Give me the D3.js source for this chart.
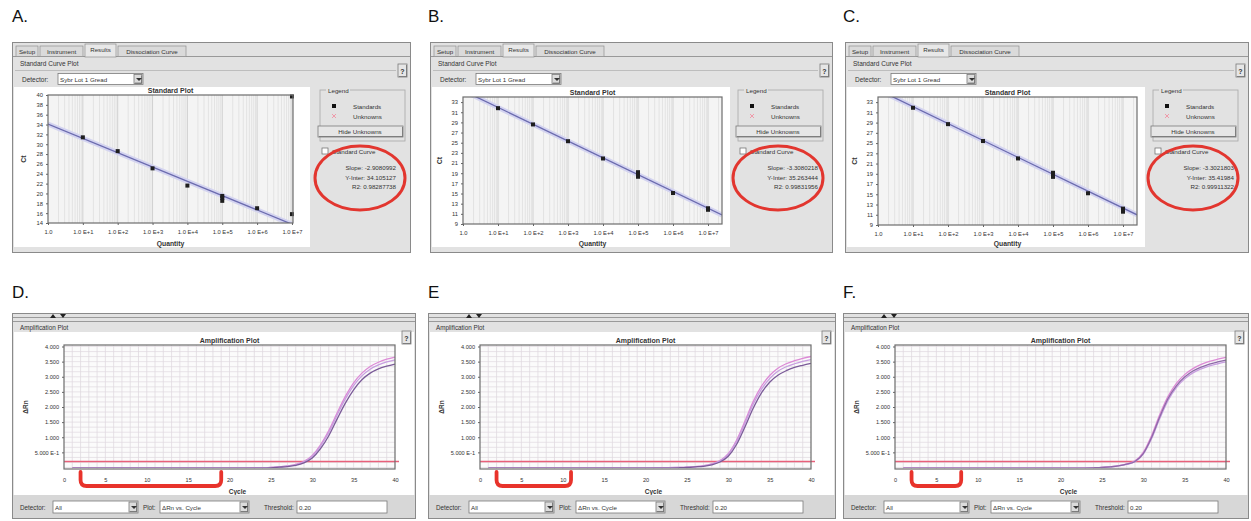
<!DOCTYPE html>
<html><head><meta charset="utf-8">
<script src="https://cdn.jsdelivr.net/npm/d3@7"></script>
<style>body{margin:0;background:#fff;} svg{display:block;font-family:"Liberation Sans",Arial,sans-serif;}</style>
</head><body><svg id="c" width="1251" height="521"></svg>
<script>
// ---------------- data ----------------
const panelLabels = ["A.", "B.", "C.", "D.", "E", "F."];
const tabLabels = ["Setup", "Instrument", "Results", "Dissociation Curve"];
const detectorName = "Sybr Lot 1 Gread";

const stdXTickExps = [0, 1, 2, 3, 4, 5, 6, 7];
const stdXTickLabels = ["1.0", "1.0 E+1", "1.0 E+2", "1.0 E+3", "1.0 E+4", "1.0 E+5", "1.0 E+6", "1.0 E+7"];
const stdA_yTicks = [40, 38, 36, 34, 32, 30, 28, 26, 24, 22, 20, 18, 16, 14];
const stdBC_yTicks = [33, 31, 29, 27, 25, 23, 21, 19, 17, 15, 13, 11, 9];

const stdA_logQ = [1, 2, 3, 4, 5, 5, 5, 6, 7, 7];
const stdA_ct   = [31.4, 28.6, 25.1, 21.6, 19.5, 19.1, 18.5, 17.0, 15.8, 39.7];
const stdB_logQ = [1, 2, 3, 4, 5, 5, 5, 6, 7, 7];
const stdB_ct   = [31.8, 28.6, 25.3, 21.9, 19.2, 18.8, 18.3, 15.1, 12.1, 11.8];
const stdC_logQ = [1, 2, 3, 4, 5, 5, 5, 6, 7, 7, 7];
const stdC_ct   = [31.9, 28.7, 25.4, 22.0, 19.2, 18.8, 18.4, 15.2, 12.2, 11.9, 11.6];

const fitSlopes     = [-2.9080992, -3.3080218, -3.3021803];
const fitIntercepts = [34.105127, 35.263444, 35.41984];
const fitR2         = [0.98287738, 0.99831956, 0.99911322];

const ampCycles = [1, 20, 22, 24, 25, 26, 27, 28, 29, 30, 31, 32, 33, 34, 35, 36, 37, 38, 39, 40];
const ampD1 = [-0.02, -0.02, -0.02, -0.01, 0.00, 0.02, 0.05, 0.10, 0.20, 0.40, 0.75, 1.22, 1.80, 2.35, 2.80, 3.12, 3.34, 3.48, 3.58, 3.65];
const ampD2 = [-0.02, -0.02, -0.02, -0.01, 0.00, 0.02, 0.05, 0.09, 0.18, 0.37, 0.71, 1.16, 1.73, 2.27, 2.71, 3.03, 3.25, 3.39, 3.49, 3.56];
const ampD3 = [-0.02, -0.02, -0.02, -0.02, -0.01, 0.01, 0.03, 0.07, 0.15, 0.31, 0.62, 1.05, 1.60, 2.13, 2.57, 2.90, 3.12, 3.26, 3.35, 3.42];
const ampE1 = [-0.02, -0.02, -0.01, 0.00, 0.01, 0.03, 0.06, 0.12, 0.23, 0.46, 0.90, 1.52, 2.17, 2.68, 3.04, 3.28, 3.43, 3.53, 3.61, 3.67];
const ampE2 = [-0.02, -0.02, -0.01, 0.00, 0.01, 0.02, 0.05, 0.11, 0.21, 0.43, 0.85, 1.45, 2.08, 2.58, 2.94, 3.18, 3.33, 3.43, 3.51, 3.57];
const ampE3 = [-0.02, -0.02, -0.02, -0.01, 0.00, 0.02, 0.04, 0.09, 0.18, 0.37, 0.76, 1.33, 1.95, 2.46, 2.82, 3.05, 3.20, 3.31, 3.38, 3.44];
const ampF1 = [-0.02, -0.02, -0.02, -0.01, 0.00, 0.03, 0.06, 0.12, 0.22, 0.50, 1.05, 1.75, 2.35, 2.78, 3.07, 3.27, 3.41, 3.51, 3.58, 3.64];
const ampF2 = [-0.02, -0.02, -0.02, -0.01, 0.00, 0.02, 0.05, 0.10, 0.19, 0.44, 0.95, 1.62, 2.22, 2.64, 2.93, 3.13, 3.26, 3.36, 3.43, 3.49];
const ampF3 = [-0.02, -0.02, -0.02, -0.01, 0.00, 0.02, 0.05, 0.11, 0.20, 0.46, 0.99, 1.68, 2.28, 2.70, 2.99, 3.19, 3.32, 3.42, 3.49, 3.55];

const ampXTicks = [0, 5, 10, 15, 20, 25, 30, 35, 40];
const ampYTicks = [0.5, 1.0, 1.5, 2.0, 2.5, 3.0, 3.5, 4.0];
const ampYTickLabels = ["5.000 E-1", "1.000", "1.500", "2.000", "2.500", "3.000", "3.500", "4.000"];
const thresholds = [0.20, 0.20, 0.20];
const baselineStart = [2, 2, 2];
const baselineEnd = [19, 11, 8];

// ---------------- drawing ----------------
const svg = d3.select("#c");
svg.append("rect").attr("width", 1251).attr("height", 521).attr("fill", "#fff");

const labelPos = [[12, 22], [428, 22], [843, 22], [12, 298], [428, 298], [843, 298]];
panelLabels.forEach((t, i) => {
  svg.append("text").attr("x", labelPos[i][0]).attr("y", labelPos[i][1])
    .attr("font-size", 17).attr("fill", "#111").text(t);
});

function txt(g, x, y, s, opt = {}) {
  return g.append("text").attr("x", x).attr("y", y).text(s)
    .attr("font-size", opt.size || 6.5)
    .attr("font-weight", opt.bold ? "bold" : null)
    .attr("text-anchor", opt.anchor || "start")
    .attr("fill", opt.fill || "#333");
}
function button(g, x, y, w, h, fill) {
  g.append("rect").attr("x", x).attr("y", y).attr("width", w).attr("height", h)
    .attr("fill", fill || "#e4e4e4").attr("stroke", "#7a7a7a").attr("stroke-width", 0.8);
  g.append("path").attr("d", `M${x + 1},${y + h - 0.5}H${x + w - 0.5}V${y + 1}`)
    .attr("fill", "none").attr("stroke", "#555").attr("stroke-width", 0.6);
}
function combo(g, x, y, w, h, value) {
  g.append("rect").attr("x", x).attr("y", y).attr("width", w).attr("height", h)
    .attr("fill", "#fff").attr("stroke", "#7a7a7a").attr("stroke-width", 0.8);
  txt(g, x + 2, y + h - 3, value, { size: 6.2 });
  button(g, x + w - 9, y + 1, 8, h - 2, "#dcdcdc");
  g.append("path").attr("d", `M${x + w - 7},${y + h / 2 - 1}l3,3l3,-3z`).attr("fill", "#333");
}

function drawStd(cfg) {
  const g = svg.append("g").attr("transform", `translate(${cfg.fx},${cfg.fy})`);
  const fw = cfg.fw, fh = cfg.fh;
  g.append("rect").attr("x", 0.5).attr("y", 0.5).attr("width", fw).attr("height", fh)
    .attr("fill", "#e2e2e2").attr("stroke", "#8a8a8a");
  const tabs = [[4, 26], [28, 71], [73, 104], [106, 174]];
  g.append("line").attr("x1", 1).attr("x2", fw).attr("y1", 14.5).attr("y2", 14.5).attr("stroke", "#999");
  tabs.forEach((t, i) => {
    const sel = i === 2;
    g.append("rect").attr("x", t[0]).attr("y", sel ? 2 : 4).attr("width", t[1] - t[0])
      .attr("height", sel ? 13 : 10.5).attr("fill", sel ? "#e8e8e8" : "#dadada")
      .attr("stroke", "#8f8f8f").attr("stroke-width", 0.7);
    txt(g, (t[0] + t[1]) / 2, sel ? 10 : 11.5, tabLabels[i], { anchor: "middle", size: 6.2 });
  });
  txt(g, 8, 23.5, "Standard Curve Plot", { size: 6.5 });
  g.append("line").attr("x1", 3).attr("x2", fw - 14).attr("y1", 28.5).attr("y2", 28.5).attr("stroke", "#bdbdbd");
  button(g, fw - 12, 22, 9, 13, "#e6e6e6");
  txt(g, fw - 7.5, 31.5, "?", { anchor: "middle", size: 7, bold: true });
  txt(g, 10, 40, "Detector:", { size: 6.5 });
  combo(g, 46, 31.5, 85, 11, detectorName);

  g.append("rect").attr("x", 2).attr("y", 45).attr("width", cfg.wpR - 2).attr("height", 160).attr("fill", "#fff");

  const b = cfg.box;
  const xs = d3.scaleLog().domain([1, Math.pow(10, cfg.xMaxExp)]).range([b.x0, b.x1]);
  const ys = d3.scaleLinear().domain(cfg.yDomain).range([b.y1, b.y0]);
  g.append("rect").attr("x", b.x0).attr("y", b.y0).attr("width", b.x1 - b.x0).attr("height", b.y1 - b.y0)
    .attr("fill", "#f4f4f4");
  const minor = [];
  for (let k = 0; k <= 7; k++) for (let m = 1; m <= 9; m++) {
    const v = m * Math.pow(10, k);
    if (v > 1 && v < Math.pow(10, cfg.xMaxExp)) minor.push(v);
  }
  g.selectAll(null).data(minor).join("line")
    .attr("x1", d => xs(d)).attr("x2", d => xs(d)).attr("y1", b.y0).attr("y2", b.y1)
    .attr("stroke", d => (Math.abs(Math.log10(d) % 1) < 1e-9) ? "#d0d0d0" : "#e3e3e3").attr("stroke-width", 1);
  const cid = "clip" + cfg.id;
  g.append("clipPath").attr("id", cid).append("rect").attr("x", b.x0).attr("y", b.y0)
    .attr("width", b.x1 - b.x0).attr("height", b.y1 - b.y0);
  const lineData = [0, cfg.xMaxExp].map(e => [Math.pow(10, e), cfg.intercept + cfg.slope * e]);
  const lg = d3.line().x(d => xs(d[0])).y(d => ys(d[1]));
  g.append("path").attr("d", lg(lineData)).attr("clip-path", `url(#${cid})`)
    .attr("stroke", "#d4d4f0").attr("stroke-width", 5).attr("fill", "none");
  g.append("path").attr("d", lg(lineData)).attr("clip-path", `url(#${cid})`)
    .attr("stroke", "#6b6bae").attr("stroke-width", 1.3).attr("fill", "none");
  g.selectAll(null).data(cfg.logQ.map((q, i) => [Math.pow(10, q), cfg.ct[i]])).join("rect")
    .attr("x", d => xs(d[0]) - 2).attr("y", d => ys(d[1]) - 2).attr("width", 4).attr("height", 4)
    .attr("fill", "#1e1e1e");
  g.append("rect").attr("x", b.x0).attr("y", b.y0).attr("width", b.x1 - b.x0).attr("height", b.y1 - b.y0)
    .attr("fill", "none").attr("stroke", "#6d6d6d").attr("stroke-width", 1.2);
  const xAxis = d3.axisBottom(xs).tickValues(stdXTickExps.map(e => Math.pow(10, e)))
    .tickFormat((d, i) => stdXTickLabels[i]).tickSize(2);
  const xa = g.append("g").attr("transform", `translate(0,${b.y1})`).call(xAxis);
  const yAxis = d3.axisLeft(ys).tickValues(cfg.yTicks).tickFormat(d => d).tickSize(2);
  const ya = g.append("g").attr("transform", `translate(${b.x0},0)`).call(yAxis);
  [xa, ya].forEach(a => {
    a.select(".domain").remove();
    a.selectAll("line").attr("stroke", "#666");
    a.selectAll("text").attr("font-size", 5.8).attr("fill", "#333").attr("font-family", "Liberation Sans, Arial");
  });
  xa.selectAll("text").attr("dy", "0.95em");
  txt(g, (b.x0 + b.x1) / 2, b.y0 - 2, "Standard Plot", { anchor: "middle", bold: true, size: 7 });
  txt(g, (b.x0 + b.x1) / 2, 203.5, "Quantity", { anchor: "middle", bold: true, size: 6.8 });
  g.append("text").attr("transform", `translate(${cfg.ctX},${(b.y0 + b.y1) / 2}) rotate(-90)`)
    .attr("text-anchor", "middle").attr("font-size", 7).attr("font-weight", "bold").attr("fill", "#333").text("Ct");

  const L = 306;
  g.append("rect").attr("x", L + 2).attr("y", 48).attr("width", 85).attr("height", 51)
    .attr("fill", "none").attr("stroke", "#a8a8a8").attr("stroke-width", 0.8);
  g.append("rect").attr("x", L + 8).attr("y", 45).attr("width", 24).attr("height", 6).attr("fill", "#e2e2e2");
  txt(g, L + 10, 50.5, "Legend", { size: 6.2 });
  g.append("rect").attr("x", L + 14).attr("y", 62).attr("width", 4).attr("height", 4).attr("fill", "#111");
  txt(g, L + 35, 66.5, "Standards", { size: 6.2 });
  g.append("path").attr("d", `M${L + 14},${72}l4,4M${L + 18},${72}l-4,4`).attr("stroke", "#ef9aaa").attr("stroke-width", 1);
  txt(g, L + 35, 76.5, "Unknowns", { size: 6.2 });
  button(g, L, 84, 85, 11, "#e6e6e6");
  txt(g, L + 42, 92, "Hide Unknowns", { anchor: "middle", size: 6.2 });
  g.append("rect").attr("x", L + 4).attr("y", 106).attr("width", 6).attr("height", 6)
    .attr("fill", "#fff").attr("stroke", "#666").attr("stroke-width", 0.7);
  txt(g, L + 14, 112, "Standard Curve", { size: 6.2 });
  txt(g, fw - 14, 127.5, "Slope: " + cfg.slope.toFixed(7), { anchor: "end", size: 6.2 });
  txt(g, fw - 14, 137.5, "Y-Inter: " + cfg.intercept.toString(), { anchor: "end", size: 6.2 });
  txt(g, fw - 14, 146.5, "R2: " + cfg.r2.toString(), { anchor: "end", size: 6.2 });
  g.append("ellipse").attr("cx", 348).attr("cy", 136).attr("rx", 45).attr("ry", 32)
    .attr("fill", "none").attr("stroke", "#e2362f").attr("stroke-width", 3);
}

function drawAmp(cfg) {
  const g = svg.append("g").attr("transform", `translate(${cfg.fx},${cfg.fy})`);
  const fw = cfg.fw, fh = cfg.fh;
  g.append("rect").attr("x", 0.5).attr("y", 0.5).attr("width", fw).attr("height", fh)
    .attr("fill", "#e2e2e2").attr("stroke", "#8a8a8a");
  g.append("line").attr("x1", 1).attr("x2", fw).attr("y1", 4.5).attr("y2", 4.5).attr("stroke", "#9a9a9a");
  g.append("line").attr("x1", 1).attr("x2", fw).attr("y1", 8.5).attr("y2", 8.5).attr("stroke", "#9a9a9a");
  g.append("path").attr("d", "M38,5l3,-4l3,4z M48,1l3,4l3,-4z").attr("fill", "#222");
  txt(g, 8, 17, "Amplification Plot", { size: 6.3 });
  g.append("rect").attr("x", 2).attr("y", 19).attr("width", fw - 3).attr("height", 163).attr("fill", "#fff");
  button(g, fw - 13, 18, 9, 13, "#e6e6e6");
  txt(g, fw - 8.5, 27.5, "?", { anchor: "middle", size: 7, bold: true });

  const b = { x0: 52, x1: 383, y0: 32, y1: 156 };
  const xs = d3.scaleLinear().domain([0, 40]).range([b.x0, b.x1]);
  const ys = d3.scaleLinear().domain([-0.05, 4.05]).range([b.y1, b.y0]);
  g.append("rect").attr("x", b.x0).attr("y", b.y0).attr("width", b.x1 - b.x0).attr("height", b.y1 - b.y0).attr("fill", "#fbfbfb");
  g.selectAll(null).data(d3.range(1, 40)).join("line")
    .attr("x1", d => xs(d)).attr("x2", d => xs(d)).attr("y1", b.y0).attr("y2", b.y1)
    .attr("stroke", "#dcd5dc").attr("stroke-width", 0.7);
  g.selectAll(null).data(d3.range(0, 25).map(i => i / 6)).join("line")
    .attr("x1", b.x0).attr("x2", b.x1).attr("y1", d => ys(d)).attr("y2", d => ys(d))
    .attr("stroke", "#e0d8e0").attr("stroke-width", 0.7);
  g.append("line").attr("x1", b.x0).attr("x2", b.x1 + 4).attr("y1", ys(cfg.threshold)).attr("y2", ys(cfg.threshold))
    .attr("stroke", "#e8607a").attr("stroke-width", 1.4);
  const cid = "aclip" + cfg.id;
  g.append("clipPath").attr("id", cid).append("rect").attr("x", b.x0).attr("y", b.y0 - 2)
    .attr("width", b.x1 - b.x0 + 2).attr("height", b.y1 - b.y0 + 1);
  const lg = d3.line().x((d, i) => xs(ampCycles[i])).y(d => ys(d)).curve(d3.curveMonotoneX);
  cfg.series.forEach((s, i) => {
    g.append("path").attr("d", lg(s)).attr("clip-path", `url(#${cid})`)
      .attr("fill", "none").attr("stroke", cfg.colors[i]).attr("stroke-width", 1.3);
  });
  g.append("rect").attr("x", b.x0).attr("y", b.y0).attr("width", b.x1 - b.x0).attr("height", b.y1 - b.y0)
    .attr("fill", "none").attr("stroke", "#6d6d6d").attr("stroke-width", 1.2);
  const xAxis = d3.axisBottom(xs).tickValues(ampXTicks).tickFormat(d => d).tickSize(0);
  const xa = g.append("g").attr("transform", `translate(0,${b.y1})`).call(xAxis);
  const yAxis = d3.axisLeft(ys).tickValues(ampYTicks).tickFormat((d, i) => ampYTickLabels[i]).tickSize(2);
  const ya = g.append("g").attr("transform", `translate(${b.x0},0)`).call(yAxis);
  [xa, ya].forEach(a => {
    a.select(".domain").remove();
    a.selectAll("line").attr("stroke", "#666");
    a.selectAll("text").attr("font-size", 5.6).attr("fill", "#333").attr("font-family", "Liberation Sans, Arial");
  });
  xa.selectAll("text").attr("dy", "1.7em");
  txt(g, (b.x0 + b.x1) / 2, b.y0 - 2, "Amplification Plot", { anchor: "middle", bold: true, size: 7 });
  txt(g, (b.x0 + b.x1) / 2 + 8, 181, "Cycle", { anchor: "middle", bold: true, size: 6.5 });
  g.append("text").attr("transform", `translate(16,${(b.y0 + b.y1) / 2}) rotate(-90)`)
    .attr("text-anchor", "middle").attr("font-size", 6.5).attr("font-weight", "bold").attr("fill", "#333").text("ΔRn");

  const x1 = xs(cfg.bStart), x2 = xs(cfg.bEnd), yT = b.y1 + 3, yB = b.y1 + 17, r = 6;
  g.append("path")
    .attr("d", `M${x1},${yT}V${yB - r}Q${x1},${yB} ${x1 + r},${yB}H${x2 - r}Q${x2},${yB} ${x2},${yB - r}V${yT}`)
    .attr("fill", "none").attr("stroke", "#e8332b").attr("stroke-width", 3.8).attr("stroke-linecap", "round");

  g.append("rect").attr("x", 1).attr("y", 182).attr("width", fw - 1).attr("height", fh - 182).attr("fill", "#d7d7d7");
  txt(g, 8, 196.5, "Detector:", { size: 6.3 });
  combo(g, 41, 188, 85, 12, "All");
  txt(g, 131, 196.5, "Plot:", { size: 6.3 });
  combo(g, 148, 188, 89, 12, "ΔRn vs. Cycle");
  txt(g, 252, 196.5, "Threshold:", { size: 6.3 });
  g.append("rect").attr("x", 285).attr("y", 188).attr("width", 90).attr("height", 12)
    .attr("fill", "#fff").attr("stroke", "#7a7a7a").attr("stroke-width", 0.8);
  txt(g, 287, 197, cfg.threshold.toFixed(2), { size: 6.2 });
}

drawStd({ id: "A", fx: 12, fy: 42, fw: 398, fh: 210, wpR: 298,
  box: { x0: 36, x1: 281, y0: 53, y1: 181 }, xMaxExp: 7.03, yDomain: [14, 40], yTicks: stdA_yTicks,
  logQ: stdA_logQ, ct: stdA_ct, slope: fitSlopes[0], intercept: fitIntercepts[0], r2: fitR2[0], ctX: 14 });
drawStd({ id: "B", fx: 430, fy: 42, fw: 402, fh: 210, wpR: 300,
  box: { x0: 33, x1: 292, y0: 55, y1: 182 }, xMaxExp: 7.4, yDomain: [9, 34], yTicks: stdBC_yTicks,
  logQ: stdB_logQ, ct: stdB_ct, slope: fitSlopes[1], intercept: fitIntercepts[1], r2: fitR2[1], ctX: 12 });
drawStd({ id: "C", fx: 845, fy: 42, fw: 403, fh: 210, wpR: 300,
  box: { x0: 33, x1: 292, y0: 55, y1: 183 }, xMaxExp: 7.4, yDomain: [9, 34], yTicks: stdBC_yTicks,
  logQ: stdC_logQ, ct: stdC_ct, slope: fitSlopes[2], intercept: fitIntercepts[2], r2: fitR2[2], ctX: 12 });

drawAmp({ id: "D", fx: 12, fy: 313, fw: 403, fh: 205, threshold: thresholds[0], bStart: baselineStart[0], bEnd: baselineEnd[0],
  series: [ampD1, ampD2, ampD3], colors: ["#dc8ad6", "#c79ee0", "#7a5a98"] });
drawAmp({ id: "E", fx: 428, fy: 313, fw: 407, fh: 205, threshold: thresholds[1], bStart: baselineStart[1], bEnd: baselineEnd[1],
  series: [ampE1, ampE2, ampE3], colors: ["#dc8ad6", "#c79ee0", "#7a5a98"] });
drawAmp({ id: "F", fx: 843, fy: 313, fw: 405, fh: 205, threshold: thresholds[2], bStart: baselineStart[2], bEnd: baselineEnd[2],
  series: [ampF1, ampF2, ampF3], colors: ["#dc8ad6", "#c79ee0", "#8e6aa8"] });
</script></body></html>
